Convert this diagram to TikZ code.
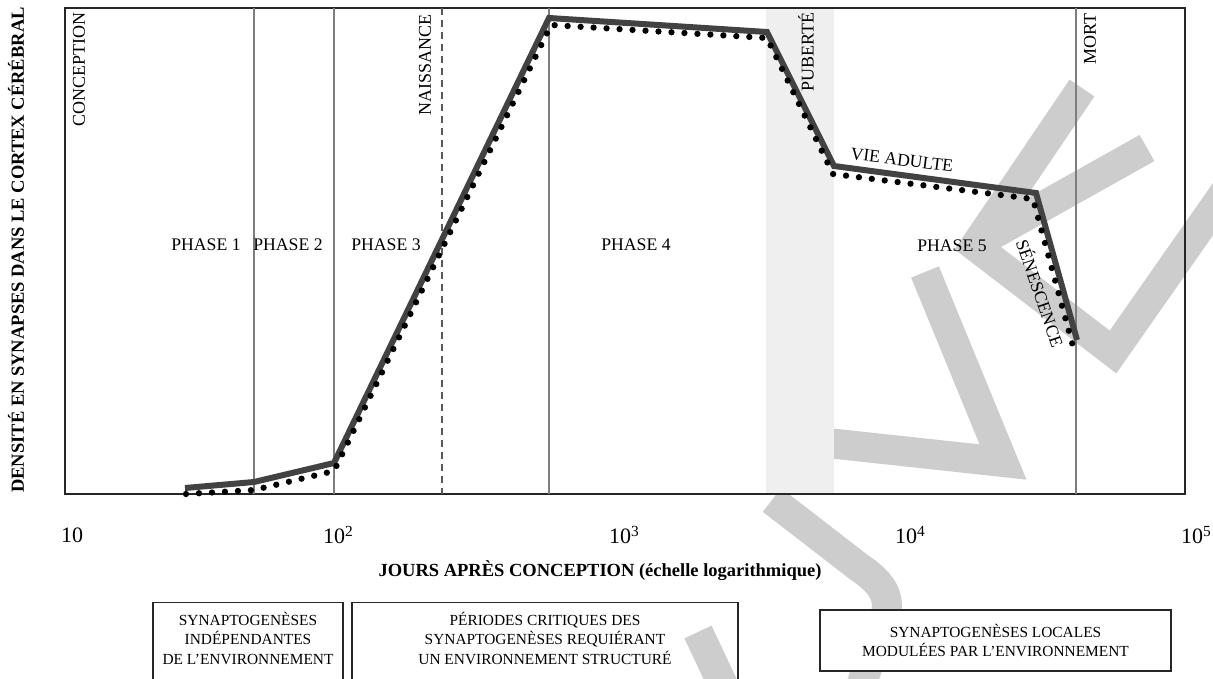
\documentclass[tikz,border=0pt]{standalone}
\usepackage{fontspec}
\setmainfont{Liberation Serif}
\usetikzlibrary{positioning}

\definecolor{curvegray}{RGB}{66,66,66}
\definecolor{linegray}{RGB}{125,125,125}
\definecolor{pubgray}{RGB}{239,239,239}
\definecolor{markgray}{RGB}{205,205,205}

\tikzset{
	frameline/.style={draw=black!85, line width=1.5pt},
	phaseline/.style={draw=linegray, line width=1.2pt},
	birthline/.style={draw=black!65, line width=1.6pt, dash pattern=on 7pt off 5pt},
	solidcurve/.style={draw=curvegray, line width=6pt, line join=miter},
	dotcurve/.style={draw=black, line width=6.3pt, line cap=round, dash pattern=on 0pt off 13pt},
	eventlabel/.style={rotate=90, anchor=east, inner sep=0pt, font=\fontsize{18}{20}\selectfont},
	phaselabel/.style={inner sep=0pt, font=\fontsize{17.7}{20}\selectfont},
	ticklabel/.style={inner sep=0pt, font=\fontsize{22}{24}\selectfont},
	axistitle/.style={inner sep=0pt, font=\bfseries\fontsize{18.5}{20}\selectfont},
	openbox/.style={draw=black!85, line width=1.2pt, anchor=north},
	boxtext/.style={align=center, inner sep=0pt, font=\fontsize{15.4}{19.5}\selectfont},
	wmark/.style={draw=markgray, line width=30pt, line join=miter}
}

\begin{document}
\begin{tikzpicture}[x=1pt, y=-1pt]
	\useasboundingbox (0,0) rectangle (1213,679);
	
	% watermark
	\draw[wmark] (1082,88) -- (975,246) -- (1113,352) -- (1232,182);
	\draw[wmark] (1147,148) -- (990,236);
	\draw[wmark] (925,272) -- (1003,462) -- (800,440);
	\draw[wmark] (772,500) -- (860,568) .. controls (890,588) and (892,605) .. (880,630) -- (858,695);
	\draw[wmark] (698,632) -- (730,700);
	
	% puberty band
	\fill[pubgray] (766,8) rectangle (834,494);
	
	% frame
	\coordinate (fnw) at (65,8);
	\coordinate (fse) at (1185,494);
	\draw[frameline] (fnw) rectangle (fse);
	
	% phase limits
	\foreach \n/\x in {one/254, two/334, three/549, death/1076} {
		\coordinate (top\n) at (\x,8);
		\coordinate (bot\n) at (\x,494);
		\draw[phaseline] (top\n) -- (bot\n);
	}
	\coordinate (topbirth) at (442,8);
	\coordinate (botbirth) at (442,494);
	\draw[birthline] (topbirth) -- (botbirth);
	
	% curves
	\coordinate (s1) at (185,488);
	\coordinate (s2) at (254,482);
	\coordinate (s3) at (334,463);
	\coordinate (s4) at (549,18);
	\coordinate (s5) at (767,32);
	\coordinate (s6) at (834,166);
	\coordinate (s7) at (1036,193);
	\coordinate (s8) at (1077,340);
	\coordinate (d1) at (186,494);
	\coordinate (d2) at (254,490);
	\coordinate (d3) at (334,471);
	\coordinate (d4) at (551,25);
	\coordinate (d5) at (767,38);
	\coordinate (d6) at (833,174);
	\coordinate (d7) at (1033,199);
	\coordinate (d8) at (1074,350);
	\draw[solidcurve] (s1) -- (s2) -- (s3) -- (s4) -- (s5) -- (s6) -- (s7) -- (s8);
	\draw[dotcurve] (d1) -- (d2) -- (d3) -- (d4) -- (d5) -- (d6) -- (d7) -- (d8);
	
	% events
	\node[eventlabel] (conception) at (79,12) {CONCEPTION};
	\node[eventlabel] (naissance) at (425,14) {NAISSANCE};
	\node[eventlabel] (puberte) at (806,12) {PUBERTÉ};
	\node[eventlabel] (mort) at (1090,13) {MORT};
	\node[phaselabel, rotate=-7] (adulte) at (902,160) {VIE ADULTE};
	\node[phaselabel, rotate=-71] (senescence) at (1041,293) {SÉNESCENCE};
	
	% phases
	\node[phaselabel] (phase1) at (206,245) {PHASE 1};
	\node[phaselabel] (phase2) at (288,245) {PHASE 2};
	\node[phaselabel] (phase3) at (386,245) {PHASE 3};
	\node[phaselabel] (phase4) at (636,245) {PHASE 4};
	\node[phaselabel] (phase5) at (952,246) {PHASE 5};
	
	% axes
	\node[axistitle, rotate=90] (ytitle) at (16,250) {DENSITÉ EN SYNAPSES DANS LE CORTEX CÉRÉBRAL};
	\node[ticklabel] (tick1) at (72,535) {10};
	\node[ticklabel] (tick2) at (334,535) {10\rlap{\textsuperscript{2}}};
	\node[ticklabel] (tick3) at (620,535) {10\rlap{\textsuperscript{3}}};
	\node[ticklabel] (tick4) at (906,535) {10\rlap{\textsuperscript{4}}};
	\node[ticklabel] (tick5) at (1192,535) {10\rlap{\textsuperscript{5}}};
	\node[axistitle] (xtitle) at (600,571) {JOURS APRÈS CONCEPTION (échelle logarithmique)};
	
	% bottom boxes
	\node[openbox,
	minimum width=190pt,
	minimum height=95pt] (box1) at (248,602) {};
	\node[boxtext, below=10pt of box1.north] (box1text) {SYNAPTOGENÈSES\\INDÉPENDANTES\\DE L’ENVIRONNEMENT};
	\node[openbox,
	minimum width=386pt,
	minimum height=95pt] (box2) at (545,602) {};
	\node[boxtext, below=10pt of box2.north] (box2text) {PÉRIODES CRITIQUES DES\\SYNAPTOGENÈSES REQUIÉRANT\\UN ENVIRONNEMENT STRUCTURÉ};
	\node[draw=black!85,
	line width=1.2pt,
	fill=white,
	minimum width=351pt,
	minimum height=61pt,
	boxtext] (box3) at (995.5,640.5) {SYNAPTOGENÈSES LOCALES\\MODULÉES PAR L’ENVIRONNEMENT};
\end{tikzpicture}
\end{document}
